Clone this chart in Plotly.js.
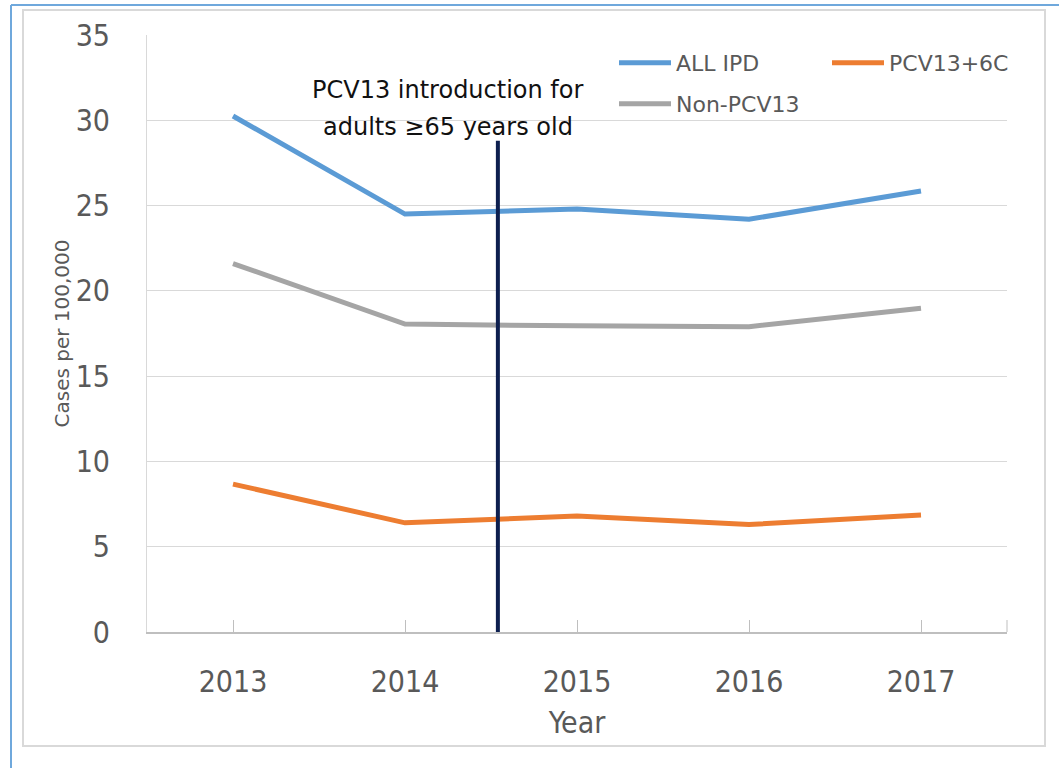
<!DOCTYPE html>
<html>
<head>
<meta charset="utf-8">
<script src="https://cdn.plot.ly/plotly-3.0.1.min.js"></script>
<style>html,body{margin:0;padding:0;background:#fff;}#chart{width:1059px;height:768px;}</style>
</head>
<body>
<div id="chart"></div>
<script>
// ---- data ----
const years = ["2013", "2014", "2015", "2016", "2017"];
const allIPD = [30.25, 24.5, 24.8, 24.2, 25.85];
const pcv13_6C = [8.67, 6.4, 6.8, 6.3, 6.86];
const nonPCV13 = [21.6, 18.05, 17.95, 17.9, 18.98];
const seriesNames = ["ALL IPD", "PCV13+6C", "Non-PCV13"];
const seriesColors = ["#5B9BD5", "#ED7D31", "#A5A5A5"];
const seriesLegends = ["legend", "legend", "legend2"];
const introX = 1.54;          // category-index position of the intro line
const introTop = 28.8;
const introLines = ["PCV13 introduction for", "adults \u226565 years old"];
const yTicks = [0, 5, 10, 15, 20, 25, 30, 35];

// ---- layout helpers (pixels -> paper) ----
const W = 1059, H = 768;
const M = {l: 147, r: 52, t: 35, b: 136, autoexpand: false};
const PW = W - M.l - M.r, PH = H - M.t - M.b;
const px = x => (x - M.l) / PW;
const py = y => 1 - (y - M.t) / PH;

const narrow = "DejaVu Sans Condensed, Liberation Sans, sans-serif";
const wide = "DejaVu Sans, Noto Sans, sans-serif";

const traces = [allIPD, pcv13_6C, nonPCV13].map((vals, i) => ({
  type: "scatter", mode: "lines", x: years, y: vals, name: seriesNames[i],
  legend: seriesLegends[i],
  line: {color: seriesColors[i], width: 5}, hoverinfo: "x+y+name"
}));

const legendCommon = {
  orientation: "h", xanchor: "left", yanchor: "top",
  font: {family: wide, size: 22, color: "#595959"},
  bgcolor: "rgba(0,0,0,0)", itemwidth: 52, tracegroupgap: 0
};

const layout = {
  width: W, height: H,
  margin: M,
  paper_bgcolor: "#fff", plot_bgcolor: "#fff",
  showlegend: true,
  legend: Object.assign({}, legendCommon, {x: px(614), y: py(42), entrywidth: 146, entrywidthmode: "pixels"}),
  legend2: Object.assign({}, legendCommon, {x: px(614), y: py(83)}),
  xaxis: {
    type: "category", range: [-0.5, 4.5],
    showgrid: false, zeroline: false,
    showline: true, linecolor: "#BFBFBF", linewidth: 1.5,
    ticks: "inside", ticklen: 12, tickcolor: "#BFBFBF", tickwidth: 1,
    tickfont: {family: narrow, size: 30, color: "#595959"},
    ticklabelstandoff: 22,
    title: {text: "Year", font: {family: narrow, size: 30, color: "#595959"}, standoff: 14},
    fixedrange: true
  },
  yaxis: {
    range: [0, 35], tickvals: yTicks, ticktext: yTicks.map(String),
    showgrid: true, gridcolor: "#D9D9D9", gridwidth: 1,
    zeroline: false, showline: true, linecolor: "#D9D9D9", linewidth: 1,
    ticks: "", tickfont: {family: narrow, size: 30, color: "#595959"},
    ticklabelstandoff: 30,
    title: {text: "Cases per 100,000", font: {family: wide, size: 20, color: "#595959"}, standoff: 0},
    fixedrange: true
  },
  shapes: [
    // outer blue frame (top & left)
    {type: "line", xref: "paper", yref: "paper", x0: px(11), x1: px(1059), y0: py(5), y1: py(5), line: {color: "#6FA8DC", width: 2}},
    {type: "line", xref: "paper", yref: "paper", x0: px(11), x1: px(11), y0: py(5), y1: py(768), line: {color: "#6FA8DC", width: 2}},
    // chart area gray frame
    {type: "rect", xref: "paper", yref: "paper", x0: px(23), x1: px(1045), y0: py(10), y1: py(746), line: {color: "#D9D9D9", width: 2}},
    // small end tick on x axis
    {type: "line", xref: "paper", yref: "paper", x0: 1, x1: 1, y0: 0, y1: py(620), line: {color: "#BFBFBF", width: 1}},
    // intro line
    {type: "line", xref: "x", yref: "y", x0: introX, x1: introX, y0: -0.1, y1: introTop, line: {color: "#0D1F4F", width: 4}}
  ],
  annotations: introLines.map((t, i) => ({
    xref: "paper", yref: "paper", x: px(448), y: py(90 + 37 * i), text: t, showarrow: false,
    font: {family: wide, size: 24, color: "#111"}, xanchor: "center", yanchor: "middle"
  }))
};

Plotly.newPlot("chart", traces, layout, {displayModeBar: false});
</script>
</body>
</html>
